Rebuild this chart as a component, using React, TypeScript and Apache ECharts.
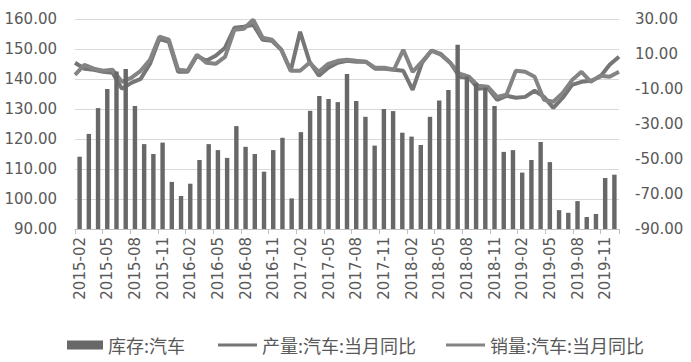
import React, { useEffect, useRef } from "react";
import * as echarts from "echarts";

const months = [
  "2015-02", "2015-03", "2015-04", "2015-05", "2015-06", "2015-07", "2015-08", "2015-09", "2015-10", "2015-11", "2015-12",
  "2016-01", "2016-02", "2016-03", "2016-04", "2016-05", "2016-06", "2016-07", "2016-08", "2016-09", "2016-10", "2016-11", "2016-12",
  "2017-01", "2017-02", "2017-03", "2017-04", "2017-05", "2017-06", "2017-07", "2017-08", "2017-09", "2017-10", "2017-11", "2017-12",
  "2018-01", "2018-02", "2018-03", "2018-04", "2018-05", "2018-06", "2018-07", "2018-08", "2018-09", "2018-10", "2018-11", "2018-12",
  "2019-01", "2019-02", "2019-03", "2019-04", "2019-05", "2019-06", "2019-07", "2019-08", "2019-09", "2019-10", "2019-11", "2019-12",
];

// 库存:汽车 (left axis)
const inventory = [
  114.1, 121.7, 130.3, 136.7, 142.5, 143.3, 131.0, 118.3, 115.0, 118.8, 105.7,
  101.0, 105.1, 113.0, 118.3, 116.3, 113.7, 124.3, 117.4, 115.0, 109.1, 116.3, 120.4,
  100.2, 122.3, 129.4, 134.3, 133.3, 132.3, 141.7, 132.7, 127.4, 117.8, 130.0, 129.3,
  122.1, 120.8, 118.0, 127.4, 132.8, 136.3, 151.4, 140.8, 138.6, 137.2, 131.0, 115.7,
  116.3, 108.8, 113.0, 119.0, 112.3, 96.3, 95.4, 99.3, 94.0, 95.0, 107.0, 108.1,
];

// 产量:汽车:当月同比 (right axis)
const production = [
  5.0, 1.6, 1.0, -0.2, -0.7, -9.9, -6.5, -4.2, 4.4, 18.7, 17.0,
  -0.2, -0.2, 9.0, 6.1, 9.0, 13.6, 25.0, 25.6, 26.7, 18.2, 17.6, 12.4,
  0.4, 22.7, 5.6, -2.4, 2.1, 5.0, 6.1, 5.6, 5.6, 1.6, 1.6, 1.0,
  0.4, -10.5, 5.0, 11.9, 10.1, 5.0, -3.0, -3.6, -9.9, -9.3, -16.2, -13.9,
  -15.0, -14.5, -11.0, -14.5, -20.8, -15.0, -7.6, -5.9, -5.3, -3.0, 3.8, 8.4,
];

// 销量:汽车:当月同比 (right axis)
const sales = [
  -1.9, 3.8, 1.6, 0.4, 1.0, -5.9, -3.6, 0.4, 6.7, 19.9, 18.2,
  1.0, 0.4, 9.6, 5.0, 4.4, 8.4, 23.9, 24.4, 29.6, 19.3, 18.2, 12.4,
  0.4, 0.4, 5.0, -0.2, 4.4, 6.1, 6.7, 6.1, 5.6, 2.1, 2.1, 1.0,
  12.4, -0.2, 5.6, 11.9, 9.6, 5.0, -1.3, -3.0, -8.2, -8.7, -14.5, -13.3,
  0.4, -0.2, -3.0, -16.2, -17.3, -12.2, -4.9, -0.2, -5.9, -2.4, -3.0, -0.2,
];

const leftAxis = { min: 90, max: 160, step: 10 };
const rightAxis = { min: -90, max: 30, step: 20 };

const seriesNames = ["库存:汽车", "产量:汽车:当月同比", "销量:汽车:当月同比"];

export default function App() {
  const ref = useRef<HTMLDivElement>(null);
  useEffect(() => {
    const chart = echarts.init(ref.current as HTMLDivElement, undefined, { renderer: "svg" });
    // right axis is drawn on a shifted scale so its ticks start at its min
    const shift = -rightAxis.min;
    const labelColor = "#595959";
    const numFont = "DejaVu Sans";
    const legendText = { fontSize: 18, color: labelColor, fontFamily: "Noto Sans CJK SC" };
    chart.setOption({
      animation: false,
      backgroundColor: "#ffffff",
      grid: { left: 75, right: 72, top: 19, bottom: 133 },
      xAxis: [
        {
          type: "category",
          data: months,
          boundaryGap: true,
          axisLine: { show: true, lineStyle: { color: "#bfbfbf", width: 1 } },
          axisTick: { show: true, interval: 2, length: 5, lineStyle: { color: "#bfbfbf" } },
          axisLabel: { interval: 2, rotate: 90, fontSize: 15, color: labelColor, fontFamily: numFont, margin: 8 },
          splitLine: { show: false },
        },
        { type: "category", data: months, boundaryGap: false, show: false },
      ],
      yAxis: [
        {
          type: "value",
          min: leftAxis.min,
          max: leftAxis.max,
          interval: leftAxis.step,
          axisLine: { show: false },
          axisTick: { show: false },
          axisLabel: { formatter: (v: number) => v.toFixed(2), fontSize: 15, color: labelColor, fontFamily: numFont, margin: 18 },
          splitLine: { show: true, lineStyle: { color: "#d9d9d9", width: 1 } },
        },
        {
          type: "value",
          position: "right",
          min: rightAxis.min + shift,
          max: rightAxis.max + shift,
          interval: rightAxis.step,
          axisLine: { show: false },
          axisTick: { show: false },
          axisLabel: { formatter: (v: number) => (v - shift).toFixed(2), fontSize: 15, color: labelColor, fontFamily: numFont, margin: 16 },
          splitLine: { show: false },
        },
      ],
      legend: [
        { left: 62, top: 331, itemWidth: 36, itemHeight: 9, data: [{ name: seriesNames[0], icon: "rect" }], textStyle: legendText },
        { left: 213, top: 331, itemWidth: 39, itemHeight: 3, data: [{ name: seriesNames[1], icon: "rect" }], textStyle: legendText },
        { left: 441, top: 331, itemWidth: 39, itemHeight: 3, data: [{ name: seriesNames[2], icon: "rect" }], textStyle: legendText },
      ],
      series: [
        {
          name: seriesNames[0],
          type: "bar",
          data: inventory,
          barWidth: "48%",
          itemStyle: { color: "#686868" },
          z: 3,
        },
        {
          name: seriesNames[1],
          type: "line",
          xAxisIndex: 1,
          yAxisIndex: 1,
          data: production.map((v) => v + shift),
          symbol: "none",
          lineStyle: { width: 4, color: "#767676" },
          itemStyle: { color: "#767676" },
          z: 2,
        },
        {
          name: seriesNames[2],
          type: "line",
          xAxisIndex: 1,
          yAxisIndex: 1,
          data: sales.map((v) => v + shift),
          symbol: "none",
          lineStyle: { width: 4, color: "#848484" },
          itemStyle: { color: "#848484" },
          z: 2,
        },
      ],
    });
    return () => chart.dispose();
  }, []);
  return <div ref={ref} style={{ position: "absolute", left: 0, top: 0, width: 691, height: 362 }} />;
}
